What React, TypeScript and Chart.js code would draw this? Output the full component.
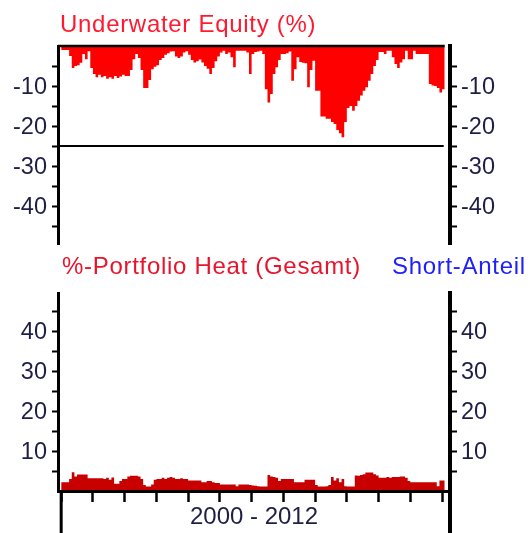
import React, { useEffect, useRef } from 'react';
import { Chart, registerables } from 'chart.js';

Chart.register(...registerables);

// ---- data (monthly, Jan 2000 .. Feb 2012) ----
const START_YEAR = 2000;
const MONTHS_PER_YEAR = 12;

const UNDERWATER = [
  -1, -1, -1, -2.5, -5.5, -5, -4.8, -4.2, -2, -3.3,
  -1.3, -5.5, -7, -7.8, -7.2, -7.8, -7.5, -8.2, -7.8, -8.2,
  -7.5, -8, -7.6, -7.2, -7.5, -7.5, -6, -3.3, -2, -3,
  -6, -10.5, -10.5, -8.5, -5.8, -5.2, -4.8, -3.5, -3, -2.2,
  -1.8, -1.4, -1.3, -2.6, -3, -2.6, -1.6, -1.3, -2.2, -3.5,
  -4.1, -3.8, -3.4, -4.1, -5, -5.7, -7, -5.5, -3.8, -2.6,
  -1.6, -1.2, -2, -1.6, -2.8, -5.3, -1.2, -1.2, -1.2, -1.2,
  -1.6, -7, -2, -1.5, -1.4, -1.2, -2, -10.8, -14.1, -12,
  -7, -5.3, -3.5, -2, -2, -1.8, -1.4, -8.7, -5.8, -2.8,
  -4, -4.2, -4.3, -10.3, -6, -3.7, -11.2, -11.2, -17.6, -17.6,
  -18.2, -18.2, -19, -19.5, -21, -21.8, -22.8, -19, -15.5, -15,
  -16.2, -15, -13.7, -12.4, -11.2, -10.3, -8.7, -7, -5, -3.5,
  -1.5, -1.5, -2, -1.2, -1.2, -2.8, -4.5, -5.5, -4.1, -3.3,
  -1.2, -3.3, -3.3, -1.2, -2, -2, -2, -2, -2, -9.5,
  -9.9, -10, -10.5, -11.6, -10.8, -7,
];

const HEAT = [
  2.2, 2.2, 2.2, 3, 4.7, 3.6, 4.1, 4.1, 4.1, 4.1,
  3.2, 3.2, 3.2, 3.2, 3.2, 3.2, 3, 3.3, 2.8, 3.4,
  1.8, 1.8, 2.5, 3, 3, 3.6, 3.8, 3.8, 3.8, 3.6,
  3, 1.5, 1.1, 1.1, 1.6, 2.8, 3, 3, 3.3, 3,
  3.3, 3.5, 3.3, 3, 3, 3.2, 3, 3, 2.6, 2.6,
  2.6, 2.6, 2.6, 2.2, 2.2, 2.5, 2.5, 2.2, 2, 2,
  1.6, 1.6, 1.6, 1.6, 1.6, 1.6, 1.2, 1.6, 1.6, 1.6,
  1.6, 1.5, 1.4, 1.3, 1.2, 1.1, 1.1, 1.1, 4, 3.6,
  3.5, 3.3, 2.5, 3, 3, 3, 3, 3, 2.2, 2.2,
  2.2, 2.2, 2.8, 2.8, 2.8, 2.8, 1.5, 1.1, 1.1, 1.1,
  1.2, 1.5, 3.5, 2.6, 3.2, 2.2, 3, 1.2, 1.1, 1.1,
  1.1, 3.9, 3.8, 4, 4.2, 4.6, 4.6, 4.6, 4.2, 3.9,
  3.3, 3.3, 3.3, 3.5, 3.3, 3.5, 3.5, 3.5, 3.6, 3.6,
  3.3, 2.5, 2.2, 2.2, 2.2, 2.2, 2.2, 2.2, 2.2, 2.2,
  2.2, 2.2, 1.2, 2.6, 2.6, 2.6,
];

const UW_TICK_LABELS = [-10, -20, -30, -40];
const HEAT_TICK_LABELS = [10, 20, 30, 40];
const UW_THRESHOLD = -25;
const PERIOD_LABEL = '2000 - 2012';
const TITLE_UW = 'Underwater Equity (%)';
const TITLE_HEAT = '%-Portfolio Heat (Gesamt)';
const TITLE_SHORT = 'Short-Anteil';

// ---- styles ----
const FONT = '"Liberation Sans", Arial, sans-serif';
const TICK_COLOR = '#1e1e46';
const UW_COLOR = '#ff0000';
const HEAT_COLOR = '#c80000';

const toPoints = (vals: number[]) =>
  vals.map((y, i) => ({ x: START_YEAR + i / MONTHS_PER_YEAR, y }));

const X_MIN = 1999.9;
const X_MAX = 2012.25;

function yAxis(position: 'left' | 'right', min: number, max: number, labels: number[], width: number) {
  const isLeft = position === 'left';
  return {
    type: 'linear',
    position,
    min,
    max,
    afterFit: (s: any) => {
      s.width = width;
      s.paddingTop = 0;
      s.paddingBottom = 0;
    },
    border: { display: true, color: '#000', width: isLeft ? 3 : 4, z: 1 },
    grid: {
      drawOnChartArea: false,
      drawTicks: true,
      tickLength: isLeft ? 6 : 7,
      tickWidth: 2,
      tickColor: (c: any) => (c.tick && Math.abs(c.tick.value) < 1e-9 ? 'rgba(0,0,0,0)' : '#000'),
    },
    ticks: {
      stepSize: 5,
      includeBounds: false,
      autoSkip: false,
      padding: isLeft ? 5 : 4,
      labelOffset: 1.5,
      color: TICK_COLOR,
      font: { family: FONT, size: 23.5 },
      callback: (v: number) => (labels.some((l) => Math.abs(l - v) < 1e-6) ? String(Math.round(v)) : ''),
    },
  };
}

export default function App() {
  const topRef = useRef<HTMLCanvasElement>(null);
  const botRef = useRef<HTMLCanvasElement>(null);

  useEffect(() => {
    const uwPts = toPoints(UNDERWATER);
    const heatPts = toPoints(HEAT);
    const lastX = uwPts[uwPts.length - 1].x;

    const topOverlay = {
      id: 'uwOverlay',
      afterDraw(chart: any) {
        const { ctx, chartArea, scales } = chart;
        const xs = scales.x;
        const ys = scales.y;
        const endX = xs.getPixelForValue(lastX);
        ctx.save();
        ctx.strokeStyle = '#000';
        ctx.lineWidth = 2.5;
        const y0 = ys.getPixelForValue(0);
        ctx.beginPath();
        ctx.moveTo(chartArea.left, y0);
        ctx.lineTo(endX, y0);
        ctx.stroke();
        ctx.lineWidth = 2;
        const ty = ys.getPixelForValue(UW_THRESHOLD);
        ctx.beginPath();
        ctx.moveTo(chartArea.left, ty);
        ctx.lineTo(endX - 1, ty);
        ctx.stroke();
        ctx.restore();
      },
    };

    const botOverlay = {
      id: 'heatOverlay',
      afterDraw(chart: any) {
        const { ctx, chartArea, scales, height } = chart;
        const x0 = scales.x.getPixelForValue(START_YEAR);
        ctx.save();
        ctx.strokeStyle = '#000';
        ctx.lineWidth = 3;
        ctx.beginPath();
        ctx.moveTo(x0, chartArea.bottom);
        ctx.lineTo(x0, height);
        ctx.stroke();
        ctx.lineWidth = 4;
        ctx.beginPath();
        ctx.moveTo(chartArea.right, chartArea.bottom);
        ctx.lineTo(chartArea.right, height);
        ctx.stroke();
        ctx.restore();
      },
    };

    const common = {
      responsive: false,
      animation: false,
      events: [],
      plugins: { legend: { display: false }, tooltip: { enabled: false }, title: { display: false } },
    };

    const top = new Chart(topRef.current as HTMLCanvasElement, {
      type: 'line',
      data: {
        datasets: [
          {
            data: uwPts,
            stepped: true,
            fill: 'origin',
            backgroundColor: UW_COLOR,
            borderColor: 'rgba(0,0,0,0)',
            borderWidth: 0,
            pointRadius: 0,
            yAxisID: 'y',
          },
        ],
      },
      options: {
        ...common,
        layout: { padding: { top: 46, bottom: 6, left: 0, right: 0 } },
        scales: {
          x: { type: 'linear', min: X_MIN, max: X_MAX, display: false },
          y: yAxis('left', -49.5, 0, UW_TICK_LABELS, 58),
          y2: yAxis('right', -49.5, 0, UW_TICK_LABELS, 80),
        },
      } as any,
      plugins: [topOverlay],
    });

    const bot = new Chart(botRef.current as HTMLCanvasElement, {
      type: 'line',
      data: {
        datasets: [
          {
            data: heatPts,
            stepped: true,
            fill: 'origin',
            backgroundColor: HEAT_COLOR,
            borderColor: 'rgba(0,0,0,0)',
            borderWidth: 0,
            pointRadius: 0,
            yAxisID: 'y',
          },
        ],
      },
      options: {
        ...common,
        layout: { padding: { top: 43, bottom: 0, left: 0, right: 0 } },
        scales: {
          x: {
            type: 'linear',
            position: 'bottom',
            min: X_MIN,
            max: X_MAX,
            afterFit: (s: any) => {
              s.height = 42;
              s.paddingLeft = 0;
              s.paddingRight = 0;
            },
            border: { display: true, color: '#000', width: 3, z: 1 },
            grid: { drawOnChartArea: false, drawTicks: true, tickLength: 11, tickWidth: 2.5, tickColor: '#000' },
            ticks: { stepSize: 1, includeBounds: false, autoSkip: false, maxRotation: 0, callback: () => '' },
            title: {
              display: true,
              text: PERIOD_LABEL,
              color: TICK_COLOR,
              font: { family: FONT, size: 24 },
              padding: { top: 0, bottom: 1 },
            },
          },
          y: yAxis('left', 0, 49.5, HEAT_TICK_LABELS, 58),
          y2: yAxis('right', 0, 49.5, HEAT_TICK_LABELS, 80),
        },
      } as any,
      plugins: [botOverlay],
    });

    return () => {
      top.destroy();
      bot.destroy();
    };
  }, []);

  const titleStyle: React.CSSProperties = {
    position: 'absolute',
    fontFamily: FONT,
    fontSize: 24,
    lineHeight: '24px',
    letterSpacing: '0.7px',
    whiteSpace: 'nowrap',
    margin: 0,
  };

  return (
    <div style={{ position: 'fixed', left: 0, top: 0, width: 530, height: 533, background: '#fff', overflow: 'hidden' }}>
      <canvas ref={topRef} width={530} height={250} style={{ position: 'absolute', left: 0, top: 0 }} />
      <canvas ref={botRef} width={530} height={283} style={{ position: 'absolute', left: 0, top: 250 }} />
      <div style={{ ...titleStyle, left: 60, top: 11.5, color: '#ff1a30' }}>{TITLE_UW}</div>
      <div style={{ ...titleStyle, left: 62, top: 254, color: '#e8142c' }}>{TITLE_HEAT}</div>
      <div style={{ ...titleStyle, left: 392, top: 254, color: '#2020ff' }}>{TITLE_SHORT}</div>
    </div>
  );
}
